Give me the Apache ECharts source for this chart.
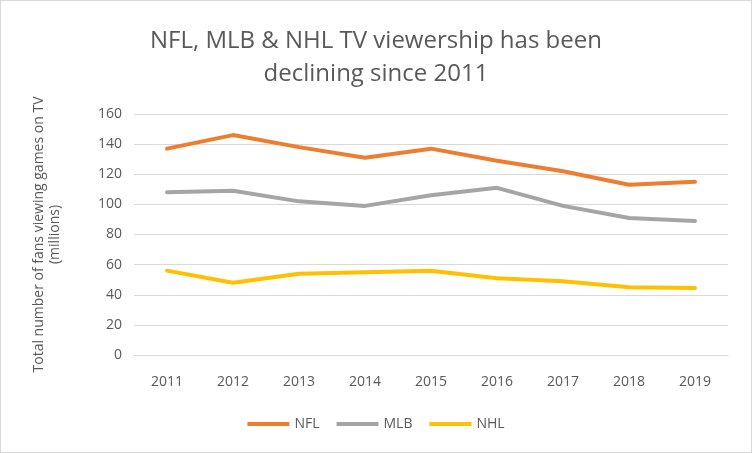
<!DOCTYPE html>
<html>
<head>
<meta charset="utf-8">
<script src="https://cdn.jsdelivr.net/npm/echarts@6/dist/echarts.min.js"></script>
<style>
  html, body { margin: 0; padding: 0; background: #fff; }
  #chart { width: 752px; height: 453px; box-sizing: border-box; border: 1px solid #d9d9d9; }
</style>
</head>
<body>
<div id="chart"></div>
<script>
var years = ['2011', '2012', '2013', '2014', '2015', '2016', '2017', '2018', '2019'];
var nfl = [137, 146, 138, 131, 137, 129, 122, 113, 115];
var mlb = [108, 109, 102, 99, 106, 111, 99, 91, 89];
var nhl = [56, 48, 54, 55, 56, 51, 49, 45, 44.5];

var textColor = '#595959';
var font = '"Open Sans", "Noto Sans", sans-serif';

var chart = echarts.init(document.getElementById('chart'), null, { renderer: 'canvas' });

var option = {
    animation: false,
    color: ['#ED7D31', '#A5A5A5', '#FFC000'],
    title: {
        text: 'NFL, MLB & NHL TV viewership has been\ndeclining since 2011',
        left: 'center',
        top: 19,
        textStyle: {
            color: textColor,
            fontFamily: font,
            fontWeight: 'normal',
            fontSize: 24,
            lineHeight: 33
        }
    },
    legend: {
        data: ['NFL', 'MLB', 'NHL'],
        bottom: 16,
        left: 'center',
        icon: 'rect',
        itemWidth: 42,
        itemHeight: 4,
        itemGap: 17,
        textStyle: {
            color: textColor,
            fontFamily: font,
            fontSize: 14
        }
    },
    grid: {
        left: 133,
        right: 23,
        top: 113,
        bottom: 97
    },
    xAxis: {
        type: 'category',
        data: years,
        boundaryGap: true,
        axisLine: { show: true, lineStyle: { color: '#d9d9d9' } },
        axisTick: { show: false },
        axisLabel: {
            color: textColor,
            fontFamily: font,
            fontSize: 14,
            margin: 20
        }
    },
    yAxis: {
        type: 'value',
        min: 0,
        max: 160,
        interval: 20,
        name: 'Total number of fans viewing games on TV\n(millions)',
        nameLocation: 'middle',
        nameGap: 71,
        nameTextStyle: {
            color: textColor,
            fontFamily: font,
            fontSize: 14,
            lineHeight: 16
        },
        axisLine: { show: false },
        axisTick: { show: false },
        splitLine: { lineStyle: { color: '#d9d9d9', width: 1 } },
        axisLabel: {
            color: textColor,
            fontFamily: font,
            fontSize: 14,
            margin: 12
        }
    },
    series: [
        { name: 'NFL', type: 'line', data: nfl, symbol: 'none', lineStyle: { width: 4, cap: 'round', join: 'round' } },
        { name: 'MLB', type: 'line', data: mlb, symbol: 'none', lineStyle: { width: 4, cap: 'round', join: 'round' } },
        { name: 'NHL', type: 'line', data: nhl, symbol: 'none', lineStyle: { width: 4, cap: 'round', join: 'round' } }
    ]
};

chart.setOption(option);
</script>
</body>
</html>
